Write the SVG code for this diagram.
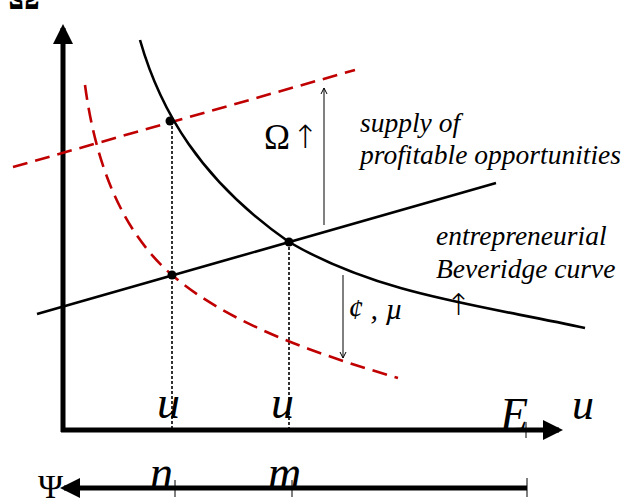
<svg xmlns="http://www.w3.org/2000/svg" width="626" height="502" viewBox="0 0 626 502">
<style>
.ax{stroke:#000;stroke-width:5;fill:none}
.sol{stroke:#000;stroke-width:2.6;fill:none}
.red{stroke:#c00000;stroke-width:2.6;fill:none;stroke-dasharray:15 8}
.dot{stroke:#000;stroke-width:1.6;stroke-dasharray:3 2;fill:none}
.thin{stroke:#000;stroke-width:1;fill:none}
.it{font-family:"Liberation Serif",serif;font-style:italic;fill:#000}
.rm{font-family:"Liberation Serif",serif;fill:#000}
.arr{font-family:"DejaVu Sans",sans-serif;fill:#000}
</style>
<defs>
<marker id="big" markerWidth="4" markerHeight="4" refX="3.2" refY="2" orient="auto" markerUnits="strokeWidth"><path d="M0,0 L4,2 L0,4 Z" fill="#000"/></marker>
<marker id="open" markerWidth="10" markerHeight="10" refX="8" refY="5" orient="auto" markerUnits="userSpaceOnUse"><path d="M2,2 L8,5 L2,8" fill="none" stroke="#000" stroke-width="1"/></marker>
</defs>
<text class="rm" x="8" y="9" font-size="40" font-weight="bold">Ω</text>
<g id="axes">
<line class="ax" x1="63" y1="432" x2="63" y2="28" marker-end="url(#big)"/>
<line class="ax" x1="61" y1="430" x2="559" y2="430" marker-end="url(#big)"/>
<line class="thin" x1="526" y1="422" x2="526" y2="438" stroke-width="1.5"/>
<line class="ax" x1="527" y1="488" x2="64" y2="488" stroke-width="4" marker-end="url(#big)"/>
<line class="thin" x1="175" y1="480" x2="175" y2="497" stroke-width="1.5"/>
<line class="thin" x1="292" y1="480" x2="292" y2="497" stroke-width="1.5"/>
<line class="thin" x1="527" y1="478" x2="527" y2="497" stroke-width="1.5"/>
</g>
<g id="connectors">
<line class="dot" x1="172" y1="121" x2="172" y2="430"/>
<line class="dot" x1="289" y1="242" x2="289" y2="430"/>
<line class="thin" x1="324" y1="225" x2="324" y2="88" marker-end="url(#open)"/>
<line class="thin" x1="343" y1="275" x2="343" y2="358" marker-end="url(#open)"/>
</g>
<g id="curves">
<line class="red" x1="13" y1="167" x2="355" y2="70"/>
<path class="red" d="M85,85 C95,160 120,230 172,275 C230,325 320,355 398,378"/>
<line class="sol" x1="37" y1="314" x2="496" y2="183"/>
<path class="sol" d="M140,40 C160,110 200,180 289,242 C380,295 480,305 585,328"/>
</g>
<g id="points">
<circle cx="170" cy="121" r="4.5"/>
<circle cx="289" cy="242" r="4.5"/>
<circle cx="172" cy="275" r="4.5"/>
</g>
<g id="labels">
<text class="rm" x="264" y="149" font-size="35">Ω</text>
<text class="arr" x="292" y="148" font-size="32" font-weight="300">↑</text>
<text class="it" x="360" y="132" font-size="27.5">supply of</text>
<text class="it" x="360" y="164" font-size="27.5">profitable opportunities</text>
<text class="it" x="436" y="245" font-size="27.5">entrepreneurial</text>
<text class="it" x="436" y="278" font-size="27.5">Beveridge curve</text>
<text class="it" x="348" y="319" font-size="30">¢ , µ</text>
<text class="arr" x="446" y="315" font-size="30" font-weight="300">↑</text>
<text class="it" x="157" y="418" font-size="46">u</text>
<text class="it" x="271" y="418" font-size="46">u</text>
<text class="it" x="500" y="430" font-size="46">E</text>
<text class="it" x="572" y="419" font-size="44">u</text>
<text class="it" x="150" y="488" font-size="46">n</text>
<text class="it" x="268" y="488" font-size="46">m</text>
<text class="rm" x="38" y="498" font-size="34">Ψ</text>
</g>
</svg>
